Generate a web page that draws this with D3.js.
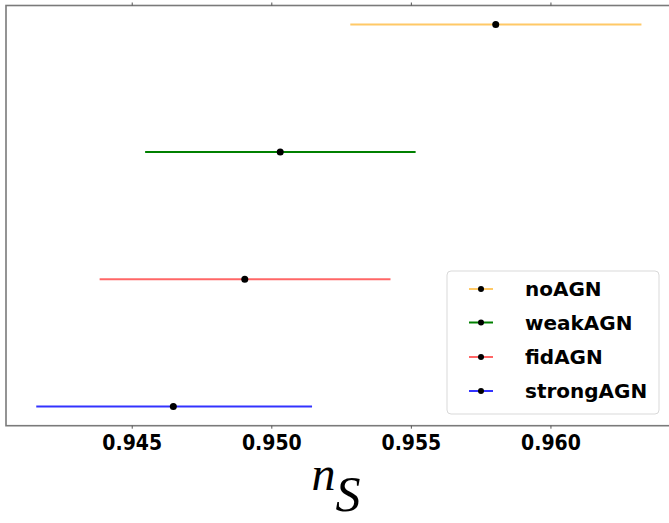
<!DOCTYPE html>
<html><head><meta charset="utf-8">
<script src="https://cdn.jsdelivr.net/npm/d3@7"></script>
<style>body{margin:0;background:#fff}svg{display:block}</style>
</head><body>
<script>
const models = ["noAGN", "weakAGN", "fidAGN", "strongAGN"];
const centers = [0.95804, 0.95032, 0.94905, 0.94649];
const lowers = [0.95283, 0.94548, 0.94385, 0.94158];
const uppers = [0.96326, 0.95517, 0.95427, 0.95146];
const colors = ["rgba(255,165,0,0.6)", "#008000", "rgba(255,0,0,0.6)", "rgba(0,0,255,0.8)"];
const xTicks = [0.945, 0.950, 0.955, 0.960];

const W = 669, H = 523;
const padL = 6, padT = 5.5, padB = 425.7, padR = 671.7;
const svg = d3.select("body").append("svg").attr("width", W).attr("height", H);

const lo = d3.min(lowers), hi = d3.max(uppers), pad = (hi - lo) * 0.05;
const x = d3.scaleLinear().domain([lo - pad, hi + pad]).range([padL, padR]);
const n = models.length;
const y = d3.scaleLinear().domain([-0.15, n - 1 + 0.15]).range([padB, padT]);
const yIdx = i => y(n - 1 - i);

// frame
svg.append("rect").attr("x", padL).attr("y", padT).attr("width", padR - padL).attr("height", padB - padT)
  .attr("fill", "none").attr("stroke", "#7a7a7a").attr("stroke-width", 1.6);

// axes
const xb = svg.append("g").attr("transform", `translate(0,${padB})`)
  .call(d3.axisBottom(x).tickValues(xTicks).tickFormat(d3.format(".3f")).tickSize(3).tickPadding(6));
xb.select(".domain").remove();
xb.selectAll("line").attr("stroke", "#555");
xb.selectAll("text").attr("font-family", "'DejaVu Sans Condensed', 'DejaVu Sans'").attr("font-stretch", "condensed")
  .attr("font-weight", "bold").attr("font-size", 21).attr("fill", "#000");
const xt = svg.append("g").attr("transform", `translate(0,${padT})`)
  .call(d3.axisTop(x).tickValues(xTicks).tickFormat("").tickSize(3));
xt.select(".domain").remove();
xt.selectAll("line").attr("stroke", "#555");

// error bars
const g = svg.append("g");
models.forEach((m, i) => {
  g.append("line").attr("x1", x(lowers[i])).attr("x2", x(uppers[i]))
    .attr("y1", yIdx(i)).attr("y2", yIdx(i)).attr("stroke", colors[i]).attr("stroke-width", 2);
  g.append("circle").attr("cx", x(centers[i])).attr("cy", yIdx(i)).attr("r", 3.5).attr("fill", "#000");
});

// x label
const lab = svg.append("text").attr("x", 336).attr("y", 490).attr("text-anchor", "middle")
  .attr("font-family", "'Liberation Serif', 'DejaVu Serif', serif").attr("font-style", "italic");
lab.append("tspan").attr("font-size", 48).text("n");
lab.append("tspan").attr("font-size", 50).attr("dy", 21).text("S");

// legend
const lg = svg.append("g");
lg.append("rect").attr("x", 447).attr("y", 271).attr("width", 212).attr("height", 143).attr("rx", 4)
  .attr("fill", "#fff").attr("stroke", "#d9d9d9").attr("stroke-width", 1);
const rowY = [289, 322.5, 357, 391];
models.forEach((m, i) => {
  lg.append("line").attr("x1", 469).attr("x2", 493).attr("y1", rowY[i]).attr("y2", rowY[i])
    .attr("stroke", colors[i]).attr("stroke-width", 2);
  lg.append("circle").attr("cx", 481).attr("cy", rowY[i]).attr("r", 3).attr("fill", "#000");
  lg.append("text").attr("x", 525).attr("y", rowY[i]).attr("dy", "0.36em")
    .attr("font-family", "'DejaVu Sans'").attr("font-weight", "bold").attr("font-size", 20)
    .attr("fill", "#000").text(m);
});
</script>
</body></html>
